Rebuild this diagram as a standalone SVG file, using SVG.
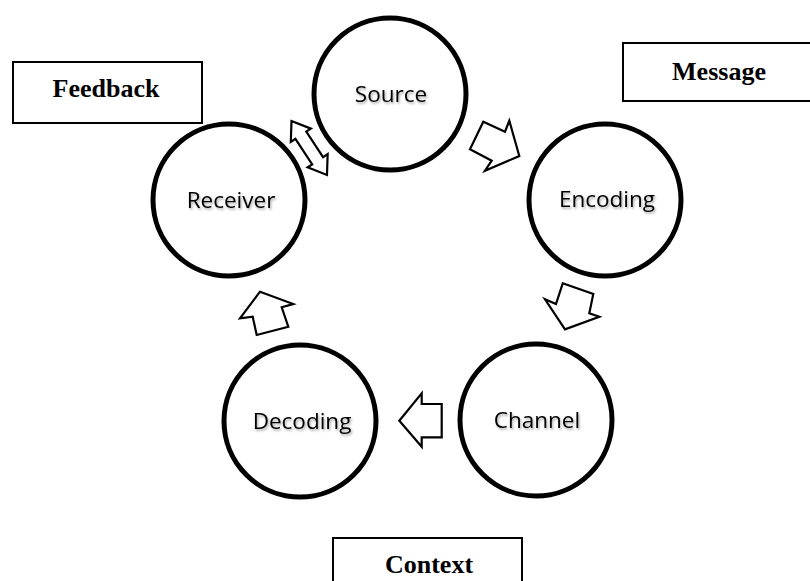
<svg xmlns="http://www.w3.org/2000/svg" width="810" height="581" viewBox="0 0 810 581">
<defs>
<filter id="sh" x="-10%" y="-30%" width="130%" height="170%">
<feDropShadow dx="1.2" dy="1.8" stdDeviation="1" flood-color="#000" flood-opacity="0.35"/>
</filter>
</defs>
<style>
.node circle{fill:#fff;stroke:#000;stroke-width:5}
.node text{font-family:"Open Sans","Liberation Sans",sans-serif;font-size:22.5px;text-anchor:middle;fill:#000;filter:url(#sh)}
.box rect{fill:#fff;stroke:#000;stroke-width:2}
.box text{font-family:"Liberation Serif","Times New Roman",serif;font-weight:bold;font-size:26px;text-anchor:middle;fill:#000}
.arr{fill:#fff;stroke:#000;stroke-width:2.2;stroke-linejoin:miter}
</style>
<rect width="810" height="581" fill="#fff"/>
<g id="feedback" class="box"><rect x="13" y="62" width="189" height="61"/><text x="106" y="97">Feedback</text></g>
<g id="message" class="box"><rect x="623" y="43" width="195" height="58"/><text x="719" y="80">Message</text></g>
<g id="context" class="box"><rect x="333" y="538" width="189" height="60"/><text x="429" y="573">Context</text></g>
<g id="source" class="node"><circle cx="390" cy="94" r="76"/><text x="391" y="102">Source</text></g>
<g id="encoding" class="node"><circle cx="605" cy="200" r="76"/><text x="607" y="207">Encoding</text></g>
<g id="channel" class="node"><circle cx="536" cy="420" r="76"/><text x="537" y="428">Channel</text></g>
<g id="decoding" class="node"><circle cx="300" cy="421" r="76"/><text x="302" y="429">Decoding</text></g>
<g id="receiver" class="node"><circle cx="229" cy="200" r="76"/><text x="231" y="208">Receiver</text></g>
<g id="connectors">
<polygon class="arr" transform="translate(291.5,121) rotate(56.7)" points="0,0 17,-12 17,-6.5 47.6,-6.5 47.6,-12 64.6,0 47.6,12 47.6,6.5 17,6.5 17,12"/>
<polygon class="arr" points="470,149.3 483.3,121.7 505,131.7 509.3,120.7 519.3,156 485,170.7 491.7,160.7"/>
<polygon class="arr" points="562.7,283.3 593.3,294 589.3,313.3 599.3,316.7 565,329.3 545,299.3 556,304"/>
<polygon class="arr" points="399.3,420.7 421.7,393.3 421.7,404 441.7,404 441.7,437.3 421.7,437.3 421.7,446.7"/>
<polygon class="arr" points="260,291.7 293.3,304 281.7,307.3 288.3,326.7 256.7,335 252.7,316.7 240,318.3"/>
</g>
</svg>
